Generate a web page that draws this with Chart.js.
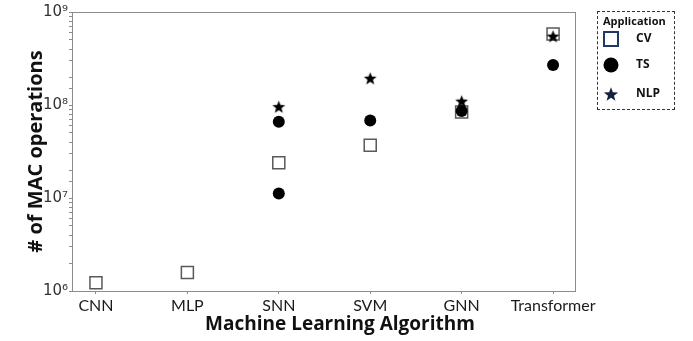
<!DOCTYPE html>
<html>
<head>
<meta charset="utf-8">
<script src="https://cdn.jsdelivr.net/npm/chart.js@4"></script>
<style>
  body { margin: 0; background: #fff; }
  #wrap { position: relative; width: 693px; height: 341px; }
  #legend {
    position: absolute; left: 597px; top: 11px; width: 78px; height: 99px;
    border: 1px dashed #333; box-sizing: border-box;
    font-family: "Open Sans", sans-serif; font-weight: bold; color: #111;
  }
  #legend div, #legend canvas, #legend span { position: absolute; line-height: 16px; }
  #legend .title { left: 5px; top: 1px; font-size: 11px; }
  #legend span { font-size: 12px; }
</style>
</head>
<body>
<div id="wrap">
  <canvas id="chart" width="693" height="341"></canvas>
  <div id="legend"><div class="title">Application</div></div>
</div>
<script>
// categorias del eje x
const algorithms = ['CNN', 'MLP', 'SNN', 'SVM', 'GNN', 'Transformer'];
const yTicks = [1e6, 1e7, 1e8, 1e9];
const tickText = { 1e6: '10⁶', 1e7: '10⁷', 1e8: '10⁸', 1e9: '10⁹' };
const xTitle = 'Machine Learning Algorithm';
const yTitle = '# of MAC operations';

// valores (x = indice del algoritmo)
const cvX = [0, 1, 2, 3, 4, 5];
const cvY = [1.23e6, 1.58e6, 2.4e7, 3.7e7, 8.4e7, 5.8e8];
const tsX = [2, 2, 3, 4, 5];
const tsY = [6.6e7, 1.12e7, 6.8e7, 8.6e7, 2.7e8];
const nlpX = [2, 3, 4, 5];
const nlpY = [9.6e7, 1.94e8, 1.1e8, 5.5e8];

function toPoints(xs, ys) {
    return xs.map((x, i) => ({ x: x, y: ys[i] }));
}

function drawStar(ctx, cx, cy, radius, color) {
    ctx.beginPath();
    for (let i = 0; i < 10; i++) {
        const r = i % 2 === 0 ? radius : radius * 0.42;
        const a = -Math.PI / 2 + i * Math.PI / 5;
        const px = cx + r * Math.cos(a), py = cy + r * Math.sin(a);
        if (i === 0) ctx.moveTo(px, py); else ctx.lineTo(px, py);
    }
    ctx.closePath();
    ctx.fillStyle = color;
    ctx.fill();
}

function makeStar(size, radius, color) {
    const c = document.createElement('canvas');
    c.width = size; c.height = size;
    drawStar(c.getContext('2d'), size / 2, size / 2 + radius * 0.1, radius, color);
    return c;
}

// marco gris alrededor del area y titulo del eje x
const frame = {
    id: 'frame',
    beforeDatasetsDraw(chart) {
        const a = chart.chartArea, ctx = chart.ctx;
        ctx.save();
        ctx.strokeStyle = '#8c8c8c';
        ctx.lineWidth = 1;
        ctx.strokeRect(a.left + 0.5, a.top + 0.5, a.right - a.left, a.bottom - a.top);
        ctx.restore();
    },
    afterDraw(chart) {
        const ctx = chart.ctx;
        ctx.save();
        ctx.font = 'bold 19px "Open Sans"';
        ctx.fillStyle = '#111';
        ctx.textAlign = 'center';
        ctx.textBaseline = 'middle';
        ctx.fillText(xTitle, 340, 325);
        ctx.restore();
    }
};

const ctx = document.getElementById('chart').getContext('2d');
const chart = new Chart(ctx, {
    type: 'scatter',
    data: {
        datasets: [
            {
                label: 'CV', data: toPoints(cvX, cvY), order: 3,
                pointStyle: 'rect', pointRadius: 8.5, pointBorderWidth: 1.5,
                borderColor: '#595959', backgroundColor: '#ffffff'
            },
            {
                label: 'TS', data: toPoints(tsX, tsY), order: 2,
                pointStyle: 'circle', pointRadius: 6, pointBorderWidth: 0,
                borderColor: '#000', backgroundColor: '#000'
            },
            {
                label: 'NLP', data: toPoints(nlpX, nlpY), order: 1,
                pointStyle: makeStar(15, 6.8, '#000'), pointRadius: 7,
                borderColor: '#000', backgroundColor: '#000'
            }
        ]
    },
    options: {
        responsive: false,
        animation: false,
        layout: { padding: { top: 12, right: 118, left: 0, bottom: 0 } },
        plugins: { legend: { display: false }, tooltip: { enabled: false } },
        scales: {
            x: {
                type: 'linear',
                min: -0.262, max: 5.24,
                afterBuildTicks: s => { s.ticks = algorithms.map((a, i) => ({ value: i })); },
                afterFit: s => { s.height = 50; },
                grid: { drawOnChartArea: false, tickLength: 3, color: '#8c8c8c' },
                border: { display: false },
                ticks: {
                    padding: 2,
                    color: '#1a1a1a',
                    font: { family: 'Lato', size: 16 },
                    callback: v => algorithms[v]
                }
            },
            y: {
                type: 'logarithmic',
                min: yTicks[0], max: yTicks[yTicks.length - 1],
                afterFit: s => { s.width = 72; },
                grid: { drawOnChartArea: false, tickLength: 3, color: '#8c8c8c' },
                border: { display: false },
                ticks: {
                    padding: 1,
                    autoSkip: false,
                    color: '#333',
                    font: { family: 'DejaVu Sans', size: 15 },
                    callback: v => tickText[v] || ''
                },
                title: {
                    display: true, text: yTitle, color: '#111',
                    font: { family: 'Open Sans', size: 20, weight: 'bold' },
                    padding: { top: 24, bottom: 0 }
                }
            }
        }
    },
    plugins: [frame]
});

// leyenda con recuadro punteado (posiciones relativas al recuadro)
const legendItems = [
    { label: 'CV', cy: 27, draw: (c, cx, cy) => { c.strokeStyle = '#1f3864'; c.lineWidth = 2; c.strokeRect(cx - 7, cy - 7, 14, 14); } },
    { label: 'TS', cy: 53, draw: (c, cx, cy) => { c.fillStyle = '#000'; c.beginPath(); c.arc(cx, cy, 7.5, 0, Math.PI * 2); c.fill(); } },
    { label: 'NLP', cy: 82, draw: (c, cx, cy) => { drawStar(c, cx, cy + 0.7, 7.5, '#14213d'); } }
];
const legendBox = document.getElementById('legend');
legendItems.forEach(it => {
    const cv = document.createElement('canvas');
    cv.width = 24; cv.height = 24;
    cv.style.left = '1px';
    cv.style.top = (it.cy - 12) + 'px';
    it.draw(cv.getContext('2d'), 12, 12);
    const sp = document.createElement('span');
    sp.textContent = it.label;
    sp.style.left = '38px';
    sp.style.top = (it.cy - 9) + 'px';
    legendBox.appendChild(cv);
    legendBox.appendChild(sp);
});
</script>
</body>
</html>
